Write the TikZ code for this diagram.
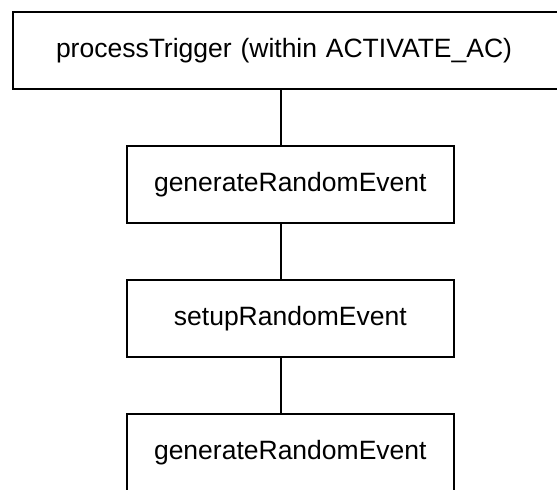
\documentclass[tikz,border=0pt]{standalone}
\usepackage{fontspec}
\setmainfont{Liberation Sans}
\usetikzlibrary{positioning}

\begin{document}
\begin{tikzpicture}[%
    x=0.5pt, y=-0.5pt,
    every node/.style={
        font=\fontsize{13.25}{16}\selectfont,
    },
    callbox/.style={draw, line width=1pt, inner sep=0pt,
        minimum width=163.5pt, minimum height=38.5pt},
]

% frame of the picture
\useasboundingbox (0,0) rectangle (557,489);
\clip (0,0) rectangle (557,489);

% call boxes (top one runs off the right edge)
\node[callbox, anchor=west, align=left, inner xsep=21.5pt, text width=233pt] (trigger) at (12,50.2) {processTrigger (within ACTIVATE\_AC)};
\node[callbox] (generateA) at (290.3,184.2) {generateRandomEvent};
\node[callbox] (setup) at (290.3,318.3) {setupRandomEvent};
\node[callbox] (generateB) at (290.3,452.5) {generateRandomEvent};

% connectors
\coordinate (spine) at (281,0);
\draw[line width=1pt] (spine |- trigger.south) -- (spine |- generateA.north);
\draw[line width=1pt] (spine |- generateA.south) -- (spine |- setup.north);
\draw[line width=1pt] (spine |- setup.south) -- (spine |- generateB.north);

\end{tikzpicture}
\end{document}
